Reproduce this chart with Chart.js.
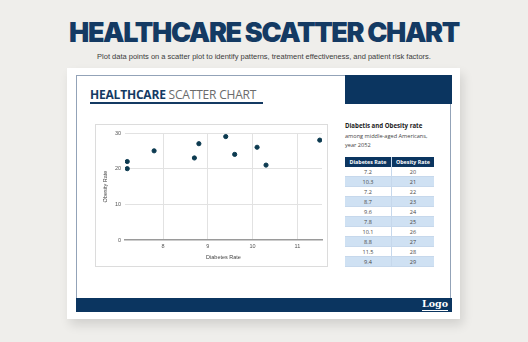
<!DOCTYPE html>
<html>
<head>
<meta charset="utf-8">
<script src="https://cdn.jsdelivr.net/npm/chart.js@4/dist/chart.umd.min.js"></script>
<style>
  html, body { margin: 0; padding: 0; }
  body { width: 528px; height: 342px; background: #efeeeb; position: relative; overflow: hidden; font-family: "Open Sans", "Noto Sans", sans-serif; }
  .abs { position: absolute; }
  #title { left: 0; width: 528px; top: 17px; text-align: center; font-family: Inter, sans-serif; font-weight: 900; font-size: 27px; letter-spacing: -1.35px; color: #143a63; line-height: 32px; }
  #subtitle { left: 0; width: 528px; top: 51px; text-align: center; font-family: "Liberation Sans", Arial, sans-serif; font-size: 7.5px; color: #3c3c3c; line-height: 12px; }
  #card { left: 67px; top: 68px; width: 393px; height: 251px; background: #fff; box-shadow: 3px 6px 10px rgba(0,0,0,0.12); }
  #frame { left: 76px; top: 75px; width: 375px; height: 236px; border: 1px solid #93a3b8; box-sizing: border-box; }
  #topblock { left: 345px; top: 75px; width: 107px; height: 29px; background: #0b3560; }
  #footer { left: 76px; top: 298px; width: 376px; height: 14px; background: #0b3560; }
  #logo { left: 422px; top: 298px; font-family: "DejaVu Serif", "Liberation Serif", serif; font-weight: bold; font-size: 9.5px; color: #fff; line-height: 12px; border-bottom: 1.5px solid #fff; }
  #heading { left: 90px; top: 88px; font-family: "Open Sans", sans-serif; font-size: 12px; line-height: 14px; color: #6b6b6b; letter-spacing: -0.2px; }
  #heading b { color: #143a63; font-weight: 700; }
  #headline { left: 90px; top: 102px; width: 173px; height: 2px; background: #143a63; }
  #chartbox { left: 95px; top: 124px; width: 233px; height: 143px; border: 1px solid #dcdcdc; box-sizing: border-box; }
  #chartwrap { left: 95px; top: 124px; width: 233px; height: 143px; }
  #ptitle { left: 345px; top: 121px; font-size: 6.1px; font-weight: 700; color: #222; line-height: 10px; white-space: nowrap; }
  #pnote { left: 345px; top: 132px; font-size: 5.6px; color: #444; line-height: 8.5px; white-space: nowrap; }
  table { position: absolute; left: 345px; top: 157px; width: 89px; border-collapse: collapse; font-size: 5.5px; color: #444; }
  th { background: #0b3560; color: #fff; font-weight: 700; height: 10px; padding: 0; text-align: center; white-space: nowrap; font-size: 5.3px; }
  td { height: 9px; padding: 0; text-align: center; border-bottom: 1px solid #c6d8ec; }
  td + td, th + th { border-left: 1px solid #c6d8ec; }
  tr:nth-child(odd) td { background: #cfe1f3; }
</style>
</head>
<body>
<div id="title" class="abs">HEALTHCARE SCATTER CHART</div>
<div id="subtitle" class="abs">Plot data points on a scatter plot to identify patterns, treatment effectiveness, and patient risk factors.</div>
<div id="card" class="abs"></div>
<div id="frame" class="abs"></div>
<div id="topblock" class="abs"></div>
<div id="footer" class="abs"></div>
<div id="logo" class="abs">Logo</div>
<div id="heading" class="abs"><b>HEALTHCARE</b> SCATTER CHART</div>
<div id="headline" class="abs"></div>
<div id="chartbox" class="abs"></div>
<div id="chartwrap" class="abs"><canvas id="c" width="233" height="143"></canvas></div>
<div id="ptitle" class="abs">Diabetis and Obesity rate</div>
<div id="pnote" class="abs">among middle-aged Americans,<br>year 2052</div>
<table id="tbl"></table>
<script>
// Diabetes vs obesity rates, one pair per row
const diabetesRate = [7.2, 10.3, 7.2, 8.7, 9.6, 7.8, 10.1, 8.8, 11.5, 9.4];
const obesityRate = [20, 21, 22, 23, 24, 25, 26, 27, 28, 29];
const columnLabels = ['Diabetes Rate', 'Obesity Rate'];
const yTicks = [0, 10, 20, 30];

// Side table
const tbl = document.getElementById('tbl');
let html = '<tr>' + columnLabels.map(l => '<th>' + l + '</th>').join('') + '</tr>';
diabetesRate.forEach((d, i) => {
  html += '<tr><td>' + d + '</td><td>' + obesityRate[i] + '</td></tr>';
});
tbl.innerHTML = html;

// Scatter plot
const points = diabetesRate.map((d, i) => ({ x: d, y: obesityRate[i] }));
const tickFont = { family: 'Liberation Sans', size: 5.5 };
new Chart(document.getElementById('c'), {
  type: 'scatter',
  data: {
    datasets: [{
      data: points,
      backgroundColor: '#0c3a50',
      borderColor: '#0c3a50',
      pointRadius: 2.1,
      pointHoverRadius: 2.1
    }]
  },
  options: {
    responsive: false,
    animation: false,
    events: [],
    layout: { padding: { top: 9, right: 6, left: 0, bottom: 0 } },
    plugins: { legend: { display: false }, tooltip: { enabled: false } },
    scales: {
      x: {
        type: 'linear',
        min: 7.15,
        max: 11.55,
        afterFit: s => { s.height = 27; },
        ticks: { stepSize: 1, includeBounds: false, padding: 3, color: '#555', font: tickFont },
        grid: { color: '#e2e2e2', lineWidth: 1, drawTicks: false },
        border: { display: true, color: '#9a9a9a', width: 1.5 },
        title: { display: true, text: 'Diabetes Rate', color: '#444', font: tickFont, padding: { top: 0, bottom: 6 } }
      },
      y: {
        type: 'linear',
        min: yTicks[0],
        max: yTicks[yTicks.length - 1],
        afterFit: s => { s.width = 30; },
        afterBuildTicks: s => { s.ticks = yTicks.map(v => ({ value: v })); },
        ticks: { padding: 4, color: '#555', font: tickFont },
        grid: { color: c => (c.tick && c.tick.value === 0 ? 'rgba(0,0,0,0)' : '#e2e2e2'), lineWidth: 1, drawTicks: false },
        border: { display: false },
        title: { display: true, text: 'Obesity Rate', color: '#444', font: tickFont, padding: { top: 7, bottom: 0 } }
      }
    }
  }
});
</script>
</body>
</html>
